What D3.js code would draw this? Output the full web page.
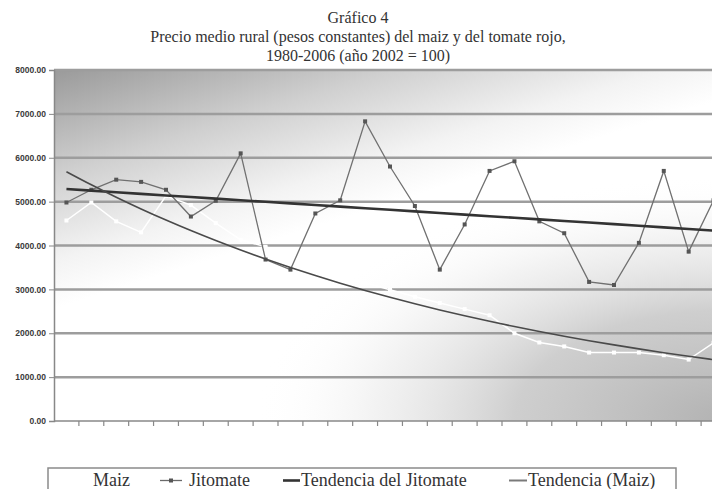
<!DOCTYPE html>
<html>
<head>
<meta charset="utf-8">
<script src="https://cdn.jsdelivr.net/npm/d3@7/dist/d3.min.js"></script>
<style>
  html, body { margin: 0; padding: 0; background: #fff; }
  svg { display: block; }
</style>
</head>
<body>
<svg id="chart" width="712" height="489"></svg>
<script>
// Years 1980-2006
const years = [1980, 1981, 1982, 1983, 1984, 1985, 1986, 1987, 1988, 1989,
               1990, 1991, 1992, 1993, 1994, 1995, 1996, 1997, 1998, 1999,
               2000, 2001, 2002, 2003, 2004, 2005, 2006];

// Precio medio rural del maíz (pesos constantes, 2002 = 100)
const maiz = [4570, 4980, 4550, 4300, 5130, 4920, 4510, 4130, 3970, 3770,
              3570, 3330, 3150, 2990, 2830, 2690, 2550, 2410, 2000, 1790,
              1700, 1560, 1560, 1560, 1500, 1400, 1780];

// Precio medio rural del jitomate (tomate rojo)
const jitomate = [4980, 5270, 5500, 5450, 5270, 4660, 5020, 6100, 3680, 3450,
                  4730, 5030, 6830, 5800, 4900, 3450, 4480, 5700, 5920, 4550,
                  4280, 3170, 3100, 4060, 5700, 3860, 5030];

const yTicks = [0, 1000, 2000, 3000, 4000, 5000, 6000, 7000, 8000];

const titleLines = ["Gráfico 4",
  "Precio medio rural (pesos constantes) del maiz y del tomate rojo,",
  "1980-2006  (año 2002 = 100)"];

const legendItems = ["Maiz", "Jitomate", "Tendencia del Jitomate", "Tendencia (Maiz)"];

// ---- trend lines (least squares) ----
function linearFit(ys) {
  const n = ys.length, xs = d3.range(n);
  const mx = d3.mean(xs), my = d3.mean(ys);
  const b = d3.sum(xs, (x, i) => (x - mx) * (ys[i] - my)) / d3.sum(xs, x => (x - mx) ** 2);
  return xs.map(x => my + b * (x - mx));
}
function expFit(ys) {
  const logs = ys.map(v => Math.log(v));
  return linearFit(logs).map(v => Math.exp(v));
}
const trendJit = linearFit(jitomate);
const trendMaiz = expFit(maiz);

// ---- layout ----
const svg = d3.select("#chart");
const L = 54, T = 70, B = 421, R = 726;

const x = d3.scalePoint().domain(years).range([L, R]).padding(0.5);
const step = x.step();
const y = d3.scaleLinear().domain([0, 8000]).range([B, T]);

// background: grey corner at top-left fading to white, grey again at bottom-right
const defs = svg.append("defs");
const grad = defs.append("linearGradient").attr("id", "bg")
  .attr("x1", 0).attr("y1", 0).attr("x2", 0.6).attr("y2", 1);
[[0, "#9a9a9a"], [0.22, "#cfcfcf"], [0.4, "#f3f3f3"], [0.5, "#ffffff"], [1, "#ffffff"]]
  .forEach(([o, c]) => grad.append("stop").attr("offset", o).attr("stop-color", c));
const rad = defs.append("radialGradient").attr("id", "bg2")
  .attr("cx", 1).attr("cy", 1).attr("r", 0.7);
[[0, "#b2b2b2", 1], [0.45, "#c6c6c6", 0.85], [0.75, "#e0e0e0", 0.4], [1, "#ffffff", 0]]
  .forEach(([o, c, a]) => rad.append("stop").attr("offset", o)
    .attr("stop-color", c).attr("stop-opacity", a));

svg.append("rect").attr("x", L).attr("y", T).attr("width", R - L).attr("height", B - T)
  .attr("fill", "url(#bg)");
svg.append("rect").attr("x", L).attr("y", T).attr("width", R - L).attr("height", B - T)
  .attr("fill", "url(#bg2)");

// horizontal gridlines
svg.append("g").selectAll("line").data(yTicks.filter(v => v > 0)).join("line")
  .attr("x1", L).attr("x2", R)
  .attr("y1", d => y(d)).attr("y2", d => y(d))
  .attr("stroke", "#9d9d9d").attr("stroke-width", 2.5);

// y axis
const yAxis = svg.append("g").attr("transform", `translate(${L},0)`)
  .call(d3.axisLeft(y).tickValues(yTicks).tickSize(5).tickPadding(3)
    .tickFormat(d3.format(".2f")));
yAxis.select(".domain").attr("stroke", "#888").attr("stroke-width", 1.5);
yAxis.selectAll(".tick line").attr("stroke", "#888");
yAxis.selectAll("text").attr("font-family", "Liberation Sans, Arial, sans-serif")
  .attr("font-size", 8.5).attr("font-weight", "bold").attr("fill", "#3a3a3a");

// x axis: ticks between categories
const xBound = years.map(d => x(d) + step / 2);
svg.append("line").attr("x1", L).attr("x2", R).attr("y1", B).attr("y2", B)
  .attr("stroke", "#888").attr("stroke-width", 1.5);
svg.append("g").selectAll("line").data(xBound).join("line")
  .attr("x1", d => d).attr("x2", d => d).attr("y1", B).attr("y2", B + 5)
  .attr("stroke", "#888").attr("stroke-width", 1.2);

const line = d3.line().x((d, i) => x(years[i])).y(d => y(d));

// Maíz series (white)
svg.append("path").datum(maiz).attr("d", line)
  .attr("fill", "none").attr("stroke", "#ffffff").attr("stroke-width", 1.5);
svg.append("g").selectAll("rect").data(maiz).join("rect")
  .attr("x", (d, i) => x(years[i]) - 2).attr("y", d => y(d) - 2)
  .attr("width", 4).attr("height", 4).attr("fill", "#ffffff");

// Jitomate series
svg.append("path").datum(jitomate).attr("d", line)
  .attr("fill", "none").attr("stroke", "#707070").attr("stroke-width", 1.3);
svg.append("g").selectAll("rect").data(jitomate).join("rect")
  .attr("x", (d, i) => x(years[i]) - 2).attr("y", d => y(d) - 2)
  .attr("width", 4).attr("height", 4).attr("fill", "#555");

// trends
svg.append("path").datum(trendJit).attr("d", line)
  .attr("fill", "none").attr("stroke", "#333").attr("stroke-width", 2.6);
svg.append("path").datum(trendMaiz).attr("d", d3.line().curve(d3.curveMonotoneX)
    .x((d, i) => x(years[i])).y(d => y(d)))
  .attr("fill", "none").attr("stroke", "#4a4a4a").attr("stroke-width", 1.6);

// title
svg.append("g").selectAll("text").data(titleLines).join("text")
  .attr("x", 358).attr("y", (d, i) => 23 + i * 19)
  .attr("text-anchor", "middle")
  .attr("font-family", "Liberation Serif, Times New Roman, serif")
  .attr("font-size", 16).attr("fill", "#333")
  .text(d => d);

// legend
const lg = svg.append("g");
lg.append("rect").attr("x", 48).attr("y", 468).attr("width", 628).attr("height", 40)
  .attr("fill", "#fff").attr("stroke", "#8a8a8a").attr("stroke-width", 1.5);
const lx = [{s: 62, e: 88, t: 93}, {s: 160, e: 182, t: 189},
            {s: 283, e: 300, t: 301}, {s: 509, e: 527, t: 528}];
const sampleStyles = [
  {c: "#ffffff", w: 1.6}, {c: "#6a6a6a", w: 1.3}, {c: "#333", w: 2.6}, {c: "#7a7a7a", w: 2}];
legendItems.forEach((name, i) => {
  lg.append("line").attr("x1", lx[i].s).attr("x2", lx[i].e)
    .attr("y1", 480.5).attr("y2", 480.5)
    .attr("stroke", sampleStyles[i].c).attr("stroke-width", sampleStyles[i].w);
  if (i === 1) {
    lg.append("rect").attr("x", (lx[i].s + lx[i].e) / 2 - 2).attr("y", 478.5)
      .attr("width", 4).attr("height", 4).attr("fill", "#555");
  }
  lg.append("text").attr("x", lx[i].t).attr("y", 486)
    .attr("font-family", "Liberation Serif, Times New Roman, serif")
    .attr("font-size", 18).attr("fill", "#333").text(name);
});
</script>
</body>
</html>
